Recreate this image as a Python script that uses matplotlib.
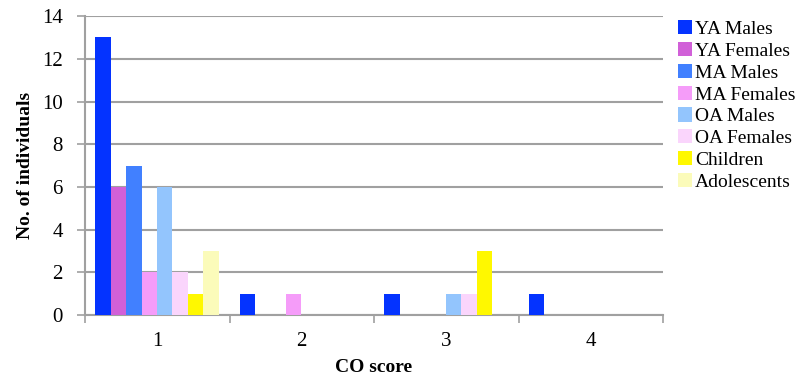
import numpy as np
import matplotlib
matplotlib.use("Agg")
import matplotlib.pyplot as plt

# data
scores = ["1", "2", "3", "4"]
groups = ["YA Males", "YA Females", "MA Males", "MA Females",
          "OA Males", "OA Females", "Children", "Adolescents"]
ya_males = [13, 1, 1, 1]
ya_females = [6, 0, 0, 0]
ma_males = [7, 0, 0, 0]
ma_females = [2, 1, 0, 0]
oa_males = [6, 0, 1, 0]
oa_females = [2, 0, 1, 0]
children = [1, 0, 3, 0]
adolescents = [3, 0, 0, 0]
series = [ya_males, ya_females, ma_males, ma_females,
          oa_males, oa_females, children, adolescents]
colors = ["#0433FF", "#D160D8", "#4180FF", "#F59CF9",
          "#93C5FD", "#FAD5FC", "#FFF800", "#FBFBBA"]

plt.rcParams['font.family'] = ['Liberation Serif', 'DejaVu Serif']

fig = plt.figure(figsize=(8.1, 3.82), dpi=100)
ax = fig.add_axes([0.105, 0.175, 0.7135, 0.783])

x = np.arange(len(scores))
w = 0.107
start = -0.5 + 0.07
for i, (vals, c, name) in enumerate(zip(series, colors, groups)):
    ax.bar(x + start + i * w, vals, width=w, align='edge', color=c,
           label=name, zorder=3)

ax.set_xlim(-0.5, len(scores) - 0.5)
ax.set_ylim(0, 14)
ax.set_yticks(range(0, 15, 2))
ax.set_xticks(x)
ax.set_xticklabels(scores)
ax.set_xticks(np.arange(-0.5, len(scores)), minor=True)
ax.tick_params(axis='x', which='major', length=0, labelsize=15, pad=12)
ax.tick_params(axis='x', which='minor', length=6, width=1.2, color='#A0A0A0')
ax.tick_params(axis='y', length=6, width=1.2, color='#A0A0A0', labelsize=15, pad=10)
ax.grid(axis='y', color='#A0A0A0', linewidth=1.5, zorder=0)
for s in ['top', 'right']:
    ax.spines[s].set_visible(False)
for s in ['left', 'bottom']:
    ax.spines[s].set_color('#A0A0A0')
    ax.spines[s].set_linewidth(1.5)

ax.set_ylabel("No. of individuals", fontweight='bold', fontsize=14, labelpad=6)
ax.set_xlabel("CO score", fontweight='bold', fontsize=14, labelpad=6)

ax.legend(loc='upper left', bbox_to_anchor=(1.005, 1.025), frameon=False,
          fontsize=14, handlelength=0.75, handleheight=0.75, handletextpad=0.15,
          labelspacing=0.2, borderaxespad=0.2)

fig.savefig("out.png", dpi=100)
